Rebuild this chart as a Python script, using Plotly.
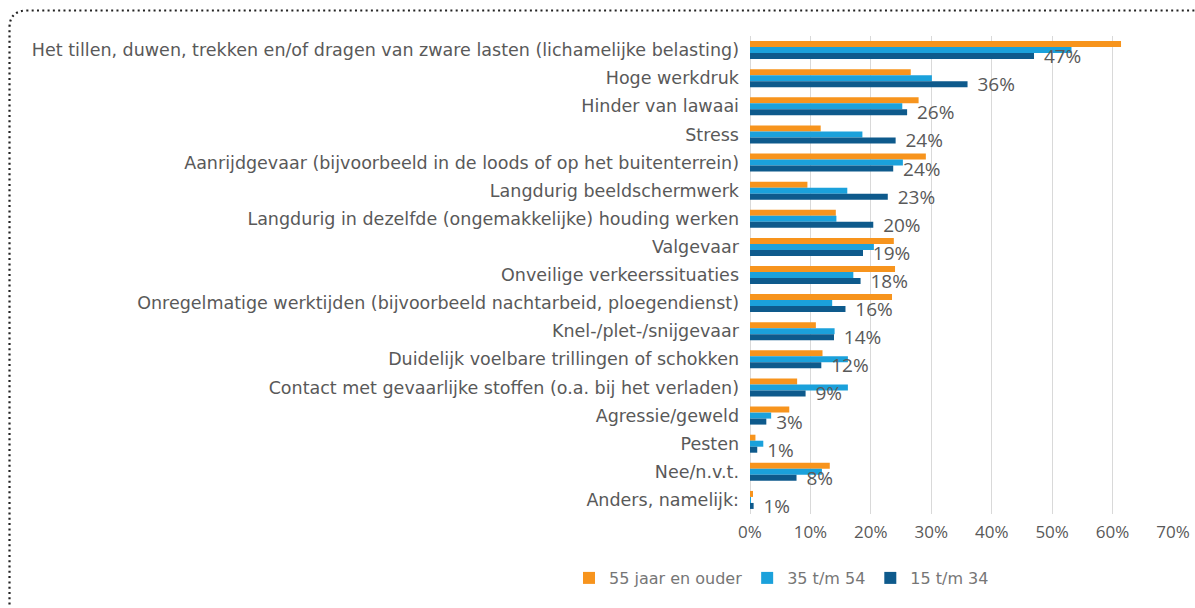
import plotly.graph_objects as go

categories = [
    "Het tillen, duwen, trekken en/of dragen van zware lasten (lichamelijke belasting)",
    "Hoge werkdruk",
    "Hinder van lawaai",
    "Stress",
    "Aanrijdgevaar (bijvoorbeeld in de loods of op het buitenterrein)",
    "Langdurig beeldschermwerk",
    "Langdurig in dezelfde (ongemakkelijke) houding werken",
    "Valgevaar",
    "Onveilige verkeerssituaties",
    "Onregelmatige werktijden (bijvoorbeeld nachtarbeid, ploegendienst)",
    "Knel-/plet-/snijgevaar",
    "Duidelijk voelbare trillingen of schokken",
    "Contact met gevaarlijke stoffen (o.a. bij het verladen)",
    "Agressie/geweld",
    "Pesten",
    "Nee/n.v.t.",
    "Anders, namelijk:",
]

ouder55 = [61.4, 26.6, 27.9, 11.7, 29.1, 9.5, 14.2, 23.8, 24.0, 23.5, 10.9, 12.0, 7.8, 6.5, 0.9, 13.2, 0.5]
mid35_54 = [53.2, 30.1, 25.2, 18.6, 25.3, 16.1, 14.3, 20.5, 17.1, 13.6, 14.0, 16.2, 16.2, 3.5, 2.2, 11.9, 0.1]
jong15_34 = [47.0, 36.0, 26.0, 24.1, 23.7, 22.8, 20.4, 18.7, 18.3, 15.8, 13.9, 11.8, 9.2, 2.7, 1.2, 7.7, 0.6]

series_names = ["55 jaar en ouder", "35 t/m 54", "15 t/m 34"]
x_ticks = [0, 10, 20, 30, 40, 50, 60, 70]

colors = ["#F7941D", "#1BA1DB", "#0E5A8C"]

W, H = 1195, 608
ML, MR, MT, MB = 750, 22, 36, 94
PW, PH = W - ML - MR, H - MT - MB


def px(x):
    return (x - ML) / PW


def py(y):
    return 1 - (y - MT) / PH


fig = go.Figure()
for name, vals, col in zip(series_names, [ouder55, mid35_54, jong15_34], colors):
    kw = {}
    if name == "15 t/m 34":
        kw = dict(
            text=["  " + f"{round(v)}%" for v in vals],
            textposition="outside",
            textfont=dict(family="Open Sans", size=19, color="#595959"),
            constraintext="none",
            cliponaxis=False,
        )
    fig.add_trace(go.Bar(
        y=categories, x=vals, name=name, orientation="h",
        marker=dict(color=col, line=dict(width=0)), **kw))

border = (f"M {px(9.5)},{py(700)} L {px(9.5)},{py(28)} "
          f"Q {px(9.5)},{py(10.5)} {px(27)},{py(10.5)} L {px(1300)},{py(10.5)}")

fig.update_layout(
    width=W, height=H,
    margin=dict(l=ML, r=MR, t=MT, b=MB, pad=0, autoexpand=False),
    paper_bgcolor="white", plot_bgcolor="white",
    barmode="group", bargap=0.36, bargroupgap=0,
    font=dict(family="Open Sans", size=15, color="#595959"),
    showlegend=True,
    legend=dict(orientation="h", x=px(569), xanchor="left", y=py(578), yanchor="middle",
                font=dict(family="DejaVu Sans", size=16, color="#767676"),
                itemwidth=30, tracegroupgap=0),
    xaxis=dict(range=[0, 70], tickvals=x_ticks, ticktext=[f"{t}%" for t in x_ticks],
               showgrid=True, gridcolor="#D9D9D9", gridwidth=1,
               zeroline=True, zerolinecolor="#D9D9D9", zerolinewidth=1,
               tickfont=dict(family="Open Sans", size=17, color="#595959"),
               ticks="", showline=False, fixedrange=True, ticklabelstandoff=6),
    yaxis=dict(autorange="reversed", type="category",
               tickfont=dict(family="DejaVu Sans", size=17.5, color="#595959"),
               ticks="", showline=False, showgrid=False, ticklabelstandoff=10),
    shapes=[dict(type="path", path=border, xref="paper", yref="paper",
                 line=dict(color="#222222", width=2.2, dash="2px,3.3px"))],
)

fig.write_html("out.html",
               config={"displayModeBar": False},
               post_script="document.body.style.margin='0';document.body.style.overflow='hidden';")
